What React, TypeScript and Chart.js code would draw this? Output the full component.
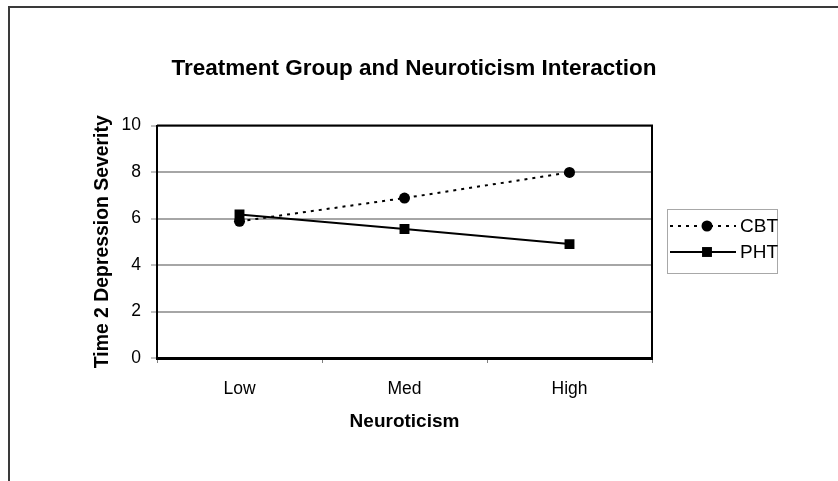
import React, { useEffect, useRef } from 'react';
import { Chart, registerables } from 'chart.js';

Chart.register(...registerables);

const categories = ['Low', 'Med', 'High'];
const cbtValues = [5.88, 6.88, 7.98];
const phtValues = [6.17, 5.55, 4.9];
const seriesNames = ['CBT', 'PHT'];
const yMin = 0;
const yMax = 10;
const yStep = 2;
const chartTitle = 'Treatment Group and Neuroticism Interaction';
const xTitle = 'Neuroticism';
const yTitle = 'Time 2 Depression Severity';

const FONT = "'Liberation Sans', Arial, Helvetica, sans-serif";

const framePlugin = {
  id: 'frame',
  beforeDraw(chart: any) {
    const ctx = chart.ctx;
    ctx.save();
    ctx.fillStyle = '#ffffff';
    ctx.fillRect(0, 0, chart.width, chart.height);
    ctx.fillStyle = '#3a3a3a';
    ctx.fillRect(8, 6, chart.width - 8, 2);
    ctx.fillRect(8, 6, 2, chart.height - 6);
    ctx.restore();
  },
  beforeDatasetsDraw(chart: any) {
    const { ctx, chartArea } = chart;
    ctx.save();
    ctx.strokeStyle = '#000';
    ctx.lineWidth = 2;
    ctx.beginPath();
    ctx.moveTo(chartArea.left, chartArea.top);
    ctx.lineTo(chartArea.right, chartArea.top);
    ctx.lineTo(chartArea.right, chartArea.bottom);
    ctx.stroke();
    ctx.restore();
  },
};

const boxLegendPlugin = {
  id: 'boxLegend',
  afterDraw(chart: any) {
    const ctx = chart.ctx;
    const area = chart.chartArea;
    const left = area.right + 15;
    const top = 209;
    const w = 110;
    const h = 64;
    ctx.save();
    ctx.strokeStyle = '#a8a8a8';
    ctx.lineWidth = 1;
    ctx.strokeRect(left + 0.5, top + 0.5, w, h);
    chart.data.datasets.forEach((ds: any, i: number) => {
      const y = top + 17 + i * 26;
      const x0 = left + 3;
      const x1 = left + 69;
      const mx = left + 40;
      ctx.strokeStyle = ds.borderColor;
      ctx.lineWidth = ds.borderWidth;
      ctx.setLineDash(ds.borderDash || []);
      ctx.beginPath();
      ctx.moveTo(x0, y);
      ctx.lineTo(x1, y);
      ctx.stroke();
      ctx.setLineDash([]);
      ctx.fillStyle = ds.pointBackgroundColor;
      if (ds.pointStyle === 'circle') {
        ctx.beginPath();
        ctx.arc(mx, y, ds.pointRadius, 0, Math.PI * 2);
        ctx.fill();
      } else {
        const s = ds.pointRadius * Math.SQRT1_2;
        ctx.fillRect(mx - s, y - s, 2 * s, 2 * s);
      }
      ctx.fillStyle = '#000';
      ctx.font = `19px ${FONT}`;
      ctx.textAlign = 'left';
      ctx.textBaseline = 'middle';
      ctx.fillText(ds.label, left + 73, y + 1);
    });
    ctx.restore();
  },
};

export default function App() {
  const ref = useRef<HTMLCanvasElement>(null);

  useEffect(() => {
    const canvas = ref.current;
    if (!canvas) return;
    const chart = new Chart(canvas, {
      type: 'line',
      data: {
        labels: categories,
        datasets: [
          {
            label: seriesNames[0],
            data: cbtValues,
            borderColor: '#000000',
            borderWidth: 2,
            borderDash: [3, 5],
            pointStyle: 'circle',
            pointRadius: 5.5,
            pointBackgroundColor: '#000000',
            pointBorderColor: '#000000',
            pointBorderWidth: 0,
            tension: 0,
            fill: false,
          },
          {
            label: seriesNames[1],
            data: phtValues,
            borderColor: '#000000',
            borderWidth: 2,
            pointStyle: 'rect',
            pointRadius: 7,
            pointBackgroundColor: '#000000',
            pointBorderColor: '#000000',
            pointBorderWidth: 0,
            tension: 0,
            fill: false,
          },
        ],
      },
      options: {
        responsive: false,
        animation: false,
        devicePixelRatio: 1,
        layout: { padding: { left: 0, right: 10, top: 0, bottom: 0 } },
        plugins: {
          legend: { display: false },
          tooltip: { enabled: false },
          title: {
            display: true,
            text: chartTitle,
            color: '#000',
            font: { family: FONT, size: 22.5, weight: 'bold' },
            padding: { top: 55, bottom: 43.5 },
          },
        },
        scales: {
          x: {
            type: 'category',
            offset: true,
            grid: {
              display: true,
              offset: true,
              drawOnChartArea: false,
              drawTicks: true,
              tickLength: 5,
              tickColor: '#808080',
              tickWidth: 1,
            },
            border: { display: true, color: '#000', width: 3 },
            ticks: {
              color: '#000',
              font: { family: FONT, size: 17.5 },
              padding: 16,
              maxRotation: 0,
            },
            title: {
              display: true,
              text: xTitle,
              color: '#000',
              font: { family: FONT, size: 19, weight: 'bold' },
              padding: { top: 0, bottom: 48 },
            },
            afterFit(s: any) {
              s.height = 123;
            },
          },
          y: {
            type: 'linear',
            min: yMin,
            max: yMax,
            ticks: {
              stepSize: yStep,
              color: '#000',
              font: { family: FONT, size: 17.5 },
              padding: 10,
            },
            grid: {
              display: true,
              color: '#a6a6a6',
              lineWidth: 2,
              drawTicks: true,
              tickLength: 6,
              tickColor: '#808080',
              tickWidth: 1,
            },
            border: { display: true, color: '#000', width: 2 },
            title: {
              display: true,
              text: yTitle,
              color: '#000',
              font: { family: FONT, size: 19.4, weight: 'bold' },
              padding: { top: 91, bottom: 0 },
            },
            afterFit(s: any) {
              s.width = 157;
            },
          },
          y2: {
            type: 'linear',
            position: 'right',
            display: true,
            grid: { display: false, drawTicks: false },
            border: { display: false },
            ticks: { display: false },
            afterFit(s: any) {
              s.width = 176;
            },
          },
        },
      },
      plugins: [framePlugin, boxLegendPlugin],
    } as any);
    return () => chart.destroy();
  }, []);

  return (
    <div style={{ position: 'fixed', left: 0, top: 0, width: 838, height: 481, background: '#fff' }}>
      <canvas ref={ref} width={838} height={481} style={{ display: 'block' }} />
    </div>
  );
}
